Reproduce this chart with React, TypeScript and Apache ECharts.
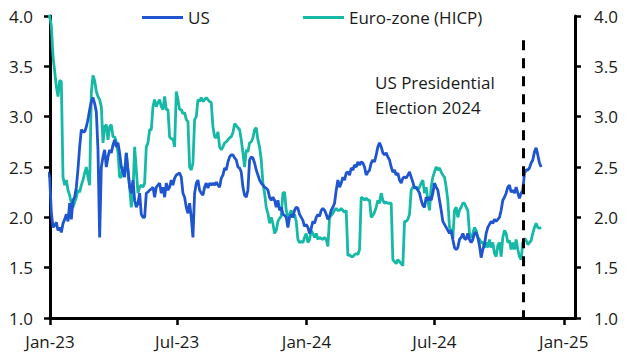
import React, { useEffect, useRef } from "react";
import * as echarts from "echarts";

// Inflation expectations (%), sampled at a regular ~2.37-day cadence
const FIRST_OBS = "2022-12-29T04:00:00Z";
const OBS_STEP_DAYS = 2.3704;

const usValues: number[] = [
  2.45, 2.4, 2.05, 1.9, 1.92, 1.95, 1.87, 1.9, 1.85, 1.94, 1.98, 2.03, 1.96, 2.14, 1.98, 2.17, 2.2, 2.3, 2.48, 2.7,
  2.87, 2.85, 2.85, 2.9, 2.97, 3.07, 3.15, 3.19, 3.13, 3.05, 2.67, 1.8, 2.5, 2.6, 2.67, 2.5, 2.6, 2.67, 2.64, 2.72,
  2.77, 2.7, 2.74, 2.64, 2.5,
  2.45, 2.4, 2.64, 2.47, 2.3, 2.24, 2.37, 2.17, 2.1, 2.14, 2.24, 2.03, 2.0, 2.0, 2.24, 2.25, 2.27, 2.28, 2.3, 2.2,
  2.3, 2.32, 2.34, 2.24, 2.3, 2.2, 2.34, 2.27, 2.3, 2.37, 2.32, 2.39, 2.42, 2.43, 2.44, 2.4, 2.24, 2.2, 2.1, 2.04,
  2.14, 2.0, 1.8, 2.24, 2.34,
  2.37, 2.27, 2.24, 2.22, 2.3, 2.34, 2.29, 2.34, 2.32, 2.34, 2.32, 2.35, 2.32, 2.3, 2.39, 2.42, 2.49, 2.47, 2.55, 2.6,
  2.62, 2.62, 2.59, 2.57, 2.5, 2.49, 2.45, 2.3, 2.22, 2.2, 2.27, 2.57, 2.6, 2.59, 2.54, 2.47, 2.42, 2.37, 2.34, 2.32,
  2.3, 2.29, 2.27, 2.2, 2.17,
  2.2, 2.17, 2.1, 2.17, 2.07, 2.1, 2.03, 2.02, 2.0, 1.9, 2.0, 2.03, 2.0, 2.07, 2.1, 2.09, 2.03, 2.0, 1.97, 1.91,
  1.93, 1.9, 1.84, 1.89, 1.96, 1.94, 2.0, 2.03, 2.01, 2.07, 2.09, 2.07, 2.03, 1.98, 2.01, 2.07, 2.1, 2.14, 2.27, 2.37,
  2.3, 2.34, 2.4, 2.37, 2.44,
  2.45, 2.42, 2.49, 2.47, 2.52, 2.5, 2.55, 2.52, 2.55, 2.54, 2.5, 2.42, 2.45, 2.47, 2.54, 2.57, 2.55, 2.62, 2.7, 2.74,
  2.7, 2.64, 2.62, 2.64, 2.6, 2.57, 2.5, 2.45, 2.47, 2.42, 2.44, 2.37, 2.34, 2.39, 2.4, 2.39, 2.42, 2.45, 2.4, 2.35,
  2.29, 2.3, 2.27, 2.24, 2.17,
  2.12, 2.1, 2.2, 2.17, 2.2, 2.17, 2.24, 2.34, 2.3, 2.27, 2.17, 2.07, 1.96, 1.93, 1.9, 1.87, 1.84, 1.87, 1.78, 1.7,
  1.68, 1.7, 1.78, 1.8, 1.84, 1.79, 1.78, 1.84, 1.78, 1.75, 1.78, 1.84, 1.85, 1.8, 1.72, 1.6, 1.68, 1.73, 1.84, 1.9,
  1.93, 1.96, 1.94, 1.98, 1.96,
  1.98, 2.0, 2.07, 2.17, 2.2, 2.24, 2.3, 2.32, 2.25, 2.27, 2.24, 2.3, 2.24, 2.19, 2.24, 2.27, 2.44, 2.47, 2.47, 2.49,
  2.54, 2.57, 2.65, 2.69, 2.62, 2.54, 2.5,
];

const euroValues: number[] = [
  4.0, 4.0, 3.9, 3.6, 3.45, 3.3, 3.2, 3.36, 3.35, 2.4, 2.32, 2.37, 2.27, 2.22, 2.14, 2.1, 2.15, 2.2, 2.27, 2.25,
  2.32, 2.37, 2.44, 2.5, 2.4, 2.32, 3.24, 3.41, 3.36, 3.25, 3.2, 3.17, 3.1, 2.74, 2.9, 2.92, 2.77, 2.9, 2.92, 2.8,
  2.8, 2.75, 2.64, 2.4, 2.4,
  2.5, 2.47, 2.64, 2.47, 2.3, 2.1, 2.24, 2.7, 2.47, 2.24, 2.3, 2.32, 2.3, 2.34, 2.7, 2.74, 2.87, 2.87, 3.1, 3.17,
  3.1, 3.14, 3.17, 3.1, 3.07, 3.2, 3.07, 3.07, 2.8, 2.78, 2.78, 2.7, 3.25, 3.17, 3.07, 3.07, 3.03, 3.04, 2.97, 2.95,
  2.5, 2.47, 2.54, 2.97, 3.0,
  3.17, 3.15, 3.19, 3.15, 3.17, 3.19, 3.17, 3.15, 3.14, 2.9, 2.8, 2.79, 2.85, 2.7, 2.67, 2.7, 2.74, 2.75, 2.77, 2.79,
  2.8, 2.84, 2.93, 2.91, 2.89, 2.87, 2.77, 2.64, 2.5, 2.67, 2.65, 2.74, 2.75, 2.79, 2.87, 2.89, 2.77, 2.7, 2.57, 2.34,
  2.24, 2.1, 2.04, 1.94, 2.0,
  1.94, 1.84, 1.87, 1.96, 1.99, 2.01, 2.24, 2.25, 2.07, 2.0, 2.03, 2.07, 2.0, 2.03, 1.96, 1.78, 1.75, 1.76, 1.75, 1.8,
  1.84, 1.75, 1.78, 1.87, 1.84, 1.8, 1.84, 1.78, 1.8, 1.79, 1.78, 1.8, 1.78, 1.71, 2.0, 2.02, 2.04, 2.07, 2.09, 2.07,
  2.07, 2.09, 2.07, 2.05, 2.07,
  1.62, 1.63, 1.61, 1.61, 1.63, 1.64, 1.63, 1.68, 2.2, 2.19, 2.17, 2.19, 2.17, 2.17, 2.0, 2.02, 2.05, 2.1, 2.17, 2.14,
  2.24, 2.17, 2.14, 2.15, 2.14, 2.14, 2.14, 1.58, 1.56, 1.54, 1.58, 1.56, 1.54, 1.52, 1.96, 1.96, 1.98, 2.03, 2.27, 2.3,
  2.29, 2.3, 2.27, 2.3, 2.34,
  2.37, 2.24, 2.3, 2.17, 2.07, 2.3, 2.4, 2.45, 2.5, 2.47, 2.49, 2.45, 2.42, 2.4, 2.3, 2.17, 1.9, 1.87, 1.79, 2.07,
  2.1, 2.0, 2.07, 2.1, 2.14, 2.14, 2.1, 2.07, 1.84, 1.8, 1.84, 1.9, 1.87, 1.8, 1.78, 1.75, 1.75, 1.7, 1.75, 1.7,
  1.78, 1.7, 1.75, 1.64, 1.61,
  1.72, 1.75, 1.61, 1.8, 1.87, 1.84, 1.75, 1.77, 1.68, 1.75, 1.68, 1.78, 1.68, 1.61, 1.58, 1.75, 1.79, 1.77, 1.73, 1.75,
  1.77, 1.84, 1.9, 1.94, 1.9, 1.89, 1.9,
];

const X_TICKS = ["2023-01-01", "2023-07-01", "2024-01-01", "2024-07-01", "2025-01-01"];
const X_MIN = "2023-01-01";
const X_MAX = "2025-01-17";
const ELECTION_DATE = "2024-11-05";
const ELECTION_LINE_TOP = 3.76;
const Y_MIN = 1.0;
const Y_MAX = 4.0;
const Y_STEP = 0.5;
const SERIES_NAMES = ["US", "Euro-zone (HICP)"];
const ANNOTATION = "US Presidential\nElection 2024";

const MONTHS = ["Jan", "Feb", "Mar", "Apr", "May", "Jun", "Jul", "Aug", "Sep", "Oct", "Nov", "Dec"];
const FONT = "'Open Sans', sans-serif";
const TEXT = "#1a1a1a";

const ts = (d: string) => new Date(d + "T00:00:00Z").getTime();

function toSeries(vals: number[]) {
  const t0 = new Date(FIRST_OBS).getTime();
  const day = 86400000;
  return vals.map((v, i) => [t0 + i * OBS_STEP_DAYS * day, v]);
}

export default function App() {
  const ref = useRef<HTMLDivElement>(null);
  useEffect(() => {
    if (!ref.current) return;
    const chart = echarts.init(ref.current, undefined, { renderer: "svg" });
    const tickVals = X_TICKS.map(ts);
    const election = ts(ELECTION_DATE);
    const yAxisBase = (pos: "left" | "right") => ({
      type: "value",
      position: pos,
      min: Y_MIN,
      max: Y_MAX,
      interval: Y_STEP,
      axisLine: { show: true, lineStyle: { color: "#000", width: 3 } },
      axisTick: { show: true, length: 6, lineStyle: { color: "#000", width: 2.5 } },
      splitLine: { show: false },
      axisLabel: {
        color: TEXT,
        fontSize: 17,
        fontFamily: FONT,
        margin: pos === "left" ? 17 : 19,
        formatter: (v: number) => v.toFixed(1),
      },
    });
    const legendBase = {
      top: 9,
      padding: 0,
      icon: "rect",
      itemWidth: 41,
      itemHeight: 3,
      itemGap: 4,
      textStyle: { color: TEXT, fontSize: 17, fontFamily: FONT },
    };
    chart.setOption({
      animation: false,
      grid: { left: 50, right: 54, top: 16, bottom: 45, containLabel: false },
      legend: [
        { ...legendBase, left: 142, data: [SERIES_NAMES[0]] },
        { ...legendBase, left: 303, data: [SERIES_NAMES[1]] },
      ],
      xAxis: {
        type: "value",
        min: ts(X_MIN),
        max: ts(X_MAX),
        axisLine: { show: true, lineStyle: { color: "#000", width: 3 } },
        axisTick: { show: true, length: 7, lineStyle: { color: "#000", width: 2.5 }, customValues: tickVals },
        splitLine: { show: false },
        axisLabel: {
          customValues: tickVals,
          color: TEXT,
          fontSize: 17,
          fontFamily: FONT,
          margin: 15,
          formatter: (v: number) => {
            const d = new Date(v);
            return MONTHS[d.getUTCMonth()] + "-" + String(d.getUTCFullYear() % 100).padStart(2, "0");
          },
        },
      },
      yAxis: [yAxisBase("left"), yAxisBase("right")],
      series: [
        {
          name: SERIES_NAMES[0],
          type: "line",
          data: toSeries(usValues),
          showSymbol: false,
          symbol: "none",
          z: 3,
          lineStyle: { color: "#1f55cf", width: 2.8 },
          itemStyle: { color: "#1f55cf" },
          markLine: {
            silent: true,
            symbol: "none",
            label: { show: false },
            lineStyle: { color: "#000", width: 3, type: [10, 8] },
            data: [[{ coord: [election, ELECTION_LINE_TOP] }, { coord: [election, Y_MIN] }]],
          },
        },
        {
          name: SERIES_NAMES[1],
          type: "line",
          data: toSeries(euroValues),
          showSymbol: false,
          symbol: "none",
          z: 2,
          lineStyle: { color: "#16b9a6", width: 2.8 },
          itemStyle: { color: "#16b9a6" },
        },
      ],
      graphic: [
        {
          type: "text",
          left: 375,
          top: 70,
          style: { text: ANNOTATION, fontSize: 17, lineHeight: 25, fill: TEXT, fontFamily: FONT },
        },
      ],
    });
    return () => chart.dispose();
  }, []);
  return <div ref={ref} style={{ width: 629, height: 363, position: "absolute", left: 0, top: 0 }} />;
}
